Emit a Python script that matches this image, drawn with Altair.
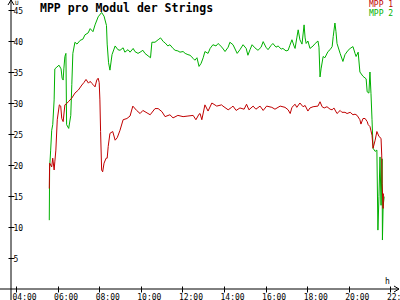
import altair as alt
import pandas as pd

# ---- data ----
mpp2_times = [
    "05:36", "05:37", "05:40", "05:43", "05:46", "05:50", "05:52", "05:58", "06:04", "06:10",
    "06:13", "06:16", "06:18", "06:21", "06:24", "06:26", "06:32", "06:38", "06:41", "06:44",
    "06:50", "06:56", "07:05", "07:13", "07:19", "07:28", "07:34", "07:42", "07:48", "07:57",
    "08:07", "08:14", "08:21", "08:23", "08:27", "08:31", "08:37", "08:46", "08:54", "09:00",
    "09:09", "09:14", "09:23", "09:29", "09:38", "09:43", "09:52", "09:58", "10:06", "10:12",
    "10:21", "10:28", "10:32", "10:41", "10:50", "10:57", "11:05", "11:10", "11:18", "11:24",
    "11:33", "11:39", "11:47", "11:53", "12:02", "12:08", "12:16", "12:22", "12:31", "12:36",
    "12:42", "12:48", "12:54", "13:00", "13:05", "13:14", "13:20", "13:28", "13:37", "13:43",
    "13:54", "14:03", "14:12", "14:17", "14:26", "14:38", "14:46", "14:55", "15:04", "15:09",
    "15:15", "15:21", "15:29", "15:38", "15:47", "15:53", "16:01", "16:07", "16:16", "16:21",
    "16:30", "16:36", "16:45", "16:50", "16:59", "17:05", "17:10", "17:16", "17:22", "17:25",
    "17:30", "17:34", "17:39", "17:45", "17:51", "17:54", "17:57", "18:02", "18:08", "18:17",
    "18:23", "18:31", "18:34", "18:37", "18:40", "18:46", "18:51", "19:00", "19:06", "19:12",
    "19:15", "19:20", "19:23", "19:26", "19:35", "19:43", "19:49", "19:58", "20:04", "20:12",
    "20:18", "20:21", "20:27", "20:32", "20:41", "20:50", "20:53", "20:58", "21:01", "21:04",
    "21:07", "21:10", "21:16", "21:21", "21:24", "21:27", "21:30", "21:33", "21:36", "21:37",
    "21:39", "21:42",
]
mpp2_values = [
    11.1, 19.5, 22.4, 25.6, 26.5, 30.5, 35.5, 35.8, 36.1, 35.5,
    34.0, 33.7, 35.5, 37.5, 38.0, 26.5, 25.9, 28.0, 33.0, 38.0,
    39.8, 39.5, 40.1, 40.3, 41.0, 41.3, 42.0, 41.5, 42.6, 43.9,
    44.6, 44.0, 42.5, 39.5, 36.5, 35.3, 37.8, 39.2, 38.6, 38.5,
    38.9, 38.2, 38.6, 38.2, 38.8, 38.3, 38.0, 38.2, 38.5, 38.0,
    37.6, 37.3, 39.8, 39.8, 40.2, 40.5, 39.9, 39.7, 39.2, 39.4,
    38.8, 38.5, 38.4, 38.2, 38.3, 38.0, 37.8, 37.7, 37.2, 36.9,
    37.3, 35.9, 36.4, 37.3, 38.3, 38.0, 38.8, 39.4, 39.2, 39.6,
    39.0, 38.3, 39.0, 39.8, 39.4, 38.0, 38.6, 39.4, 38.8, 37.7,
    38.6, 39.4, 38.9, 38.5, 39.0, 39.9, 39.0, 38.6, 39.3, 39.6,
    39.0, 39.2, 38.7, 38.8, 38.4, 38.5, 39.3, 40.2, 39.2, 38.8,
    40.5, 41.8, 40.2, 39.5, 42.6, 40.5, 39.6, 40.0, 38.8, 39.2,
    39.6, 40.0, 39.0, 34.2, 35.5, 37.5, 37.3, 38.3, 38.6, 39.1,
    40.7, 42.9, 41.5, 39.6, 38.0, 36.7, 37.8, 38.5, 38.8, 39.1,
    38.0, 37.5, 38.2, 35.0, 34.3, 33.9, 31.8, 31.6, 35.0, 31.5,
    27.3, 22.7, 22.2, 22.4, 9.5, 14.9, 21.3, 13.5, 21.0, 7.9,
    13.3, 14.9,
]

mpp1_times = [
    "05:36", "05:37", "05:43", "05:46", "05:50", "05:52", "05:55", "05:59", "06:05", "06:09",
    "06:12", "06:16", "06:21", "06:26", "06:31", "06:41", "06:50", "07:00", "07:10", "07:16",
    "07:22", "07:29", "07:34", "07:38", "07:42", "07:48", "07:53", "07:57", "08:00", "08:02",
    "08:04", "08:07", "08:10", "08:14", "08:20", "08:23", "08:26", "08:31", "08:39", "08:46",
    "08:52", "09:00", "09:09", "09:20", "09:29", "09:37", "09:48", "09:58", "10:06", "10:18",
    "10:27", "10:41", "10:50", "11:01", "11:10", "11:24", "11:33", "11:47", "12:02", "12:16",
    "12:31", "12:39", "12:48", "12:51", "12:56", "13:05", "13:14", "13:25", "13:39", "13:53",
    "13:57", "14:12", "14:22", "14:26", "14:35", "14:46", "14:58", "15:05", "15:12", "15:24",
    "15:32", "15:44", "15:53", "16:03", "16:18", "16:27", "16:42", "16:56", "17:05", "17:11",
    "17:16", "17:25", "17:30", "17:39", "17:48", "17:54", "18:02", "18:08", "18:17", "18:31",
    "18:37", "18:43", "18:49", "18:57", "19:06", "19:12", "19:17", "19:26", "19:35", "19:40",
    "19:49", "19:55", "20:04", "20:12", "20:18", "20:24", "20:32", "20:35", "20:41", "20:47",
    "20:53", "20:56", "21:01", "21:04", "21:07", "21:10", "21:16", "21:21", "21:27", "21:33",
    "21:35", "21:36", "21:39", "21:40",
]
mpp1_values = [
    16.2, 20.3, 19.7, 21.1, 19.2, 20.5, 22.4, 27.3, 29.7, 29.5,
    27.5, 27.0, 29.7, 29.9, 30.2, 30.8, 31.6, 32.1, 32.9, 33.3,
    33.8, 33.2, 33.5, 33.2, 33.0, 32.6, 33.7, 34.0, 33.3, 30.5,
    25.4, 19.2, 18.9, 20.3, 21.1, 21.1, 23.0, 25.1, 25.4, 24.0,
    24.4, 25.6, 27.3, 27.5, 27.9, 29.5, 28.8, 28.3, 28.8, 28.4,
    28.1, 29.1, 29.1, 28.6, 27.8, 28.1, 27.6, 28.0, 27.8, 27.9,
    28.0, 27.3, 28.2, 28.3, 27.3, 29.7, 28.7, 30.0, 29.5, 29.7,
    29.5, 28.9, 29.3, 29.5, 28.8, 29.2, 29.0, 29.8, 28.9, 29.5,
    29.0, 29.5, 28.8, 29.5, 29.3, 29.0, 29.5, 29.3, 28.9, 28.3,
    29.3, 29.8, 29.3, 30.0, 29.4, 29.6, 28.7, 29.2, 29.4, 29.5,
    30.2, 29.4, 29.2, 29.4, 29.0, 28.9, 29.2, 28.3, 28.8, 28.5,
    28.5, 28.3, 28.5, 28.1, 28.2, 28.0, 27.3, 26.6, 27.5, 27.5,
    27.0, 26.5, 26.2, 25.5, 24.8, 22.7, 24.0, 25.4, 24.6, 24.3,
    21.6, 17.0, 13.0, 15.4,
]

x_tick_hours = [4, 6, 8, 10, 12, 14, 16, 18, 20, 22]
y_tick_values = [5, 10, 15, 20, 25, 30, 35, 40, 45]

series_names = ["MPP 1", "MPP 2"]
series_colors = ["#c00000", "#00b000"]
title_text = "MPP pro Modul der Strings"


def to_hours(t):
    h, m = t.split(":")
    return int(h) + int(m) / 60.0


df1 = pd.DataFrame({"h": [to_hours(t) for t in mpp1_times], "v": mpp1_values,
                    "i": list(range(len(mpp1_values)))})
df2 = pd.DataFrame({"h": [to_hours(t) for t in mpp2_times], "v": mpp2_values,
                    "i": list(range(len(mpp2_values)))})

W, H = 389, 289
FONT = "DejaVu Sans Mono"

xscale = alt.Scale(domain=[3.7596, 22.4615], nice=False, zero=False)
yscale = alt.Scale(domain=[0, 289 / 6.2], nice=False, zero=False)

xaxis = alt.Axis(values=x_tick_hours, title=None, grid=False, domain=False,
                 tickSize=6, offset=-3, tickColor="black",
                 labelExpr="(datum.value < 10 ? '0' : '') + datum.value + ':00'",
                 labelAlign="left", labelOffset=-4, labelPadding=1, labelBaseline="top",
                 labelFont=FONT, labelFontSize=8, labelColor="black",
                 labelFlush=False, labelOverlap=False)
yaxis = alt.Axis(values=y_tick_values, title=None, grid=False, domain=False,
                 tickSize=6, offset=-3, tickColor="black",
                 labelAlign="left", labelPadding=-5, labelBaseline="middle", labelOffset=1,
                 labelFont=FONT, labelFontSize=8, labelColor="black",
                 labelFlush=False, labelOverlap=False)

green = alt.Chart(df2).mark_line(color=series_colors[1], strokeWidth=1).encode(
    x=alt.X("h:Q", scale=xscale, axis=xaxis),
    y=alt.Y("v:Q", scale=yscale, axis=yaxis),
    order="i:Q",
)
red = alt.Chart(df1).mark_line(color=series_colors[0], strokeWidth=1).encode(
    x=alt.X("h:Q", scale=xscale, axis=xaxis),
    y=alt.Y("v:Q", scale=yscale, axis=yaxis),
    order="i:Q",
)

one = pd.DataFrame({"a": [0]})


def rule(x, y, x2, y2):
    return alt.Chart(one).mark_rule(color="black", strokeWidth=1).encode(
        x=alt.value(x), y=alt.value(y), x2=alt.value(x2), y2=alt.value(y2))


axes_lines = [
    rule(0, 0, 0, 300),          # y axis line
    rule(-11, 289, 388, 289),    # x axis line
    rule(0, 0, -3, 5),           # y arrow
    rule(0, 0, 3, 5),
    rule(388, 289, 383, 286),    # x arrow
    rule(388, 289, 383, 292),
]


def label(text, x, y, color="black", size=8, weight="normal"):
    return alt.Chart(pd.DataFrame({"t": [text]})).mark_text(
        font=FONT, fontSize=size, fontWeight=weight, color=color,
        align="left", baseline="alphabetic").encode(
        x=alt.value(x), y=alt.value(y), text="t:N")


texts = [
    label(title_text, 29, 11.5, size=11.5, weight="bold"),
    label(series_names[0], 358, 7.2, color=series_colors[0]),
    label(series_names[1], 358, 15.5, color=series_colors[1]),
    label("h", 374, 283.5),
    label("U", 4, 4.8, size=6),
]

chart = alt.layer(green, red, *axes_lines, *texts).properties(
    width=W, height=H,
    padding={"left": 11, "top": 0, "right": 0, "bottom": 11},
    autosize=alt.AutoSizeParams(type="none"),
    background="white",
).configure_view(stroke=None)

chart.save("out.html", embed_options={"renderer": "svg", "actions": False})
